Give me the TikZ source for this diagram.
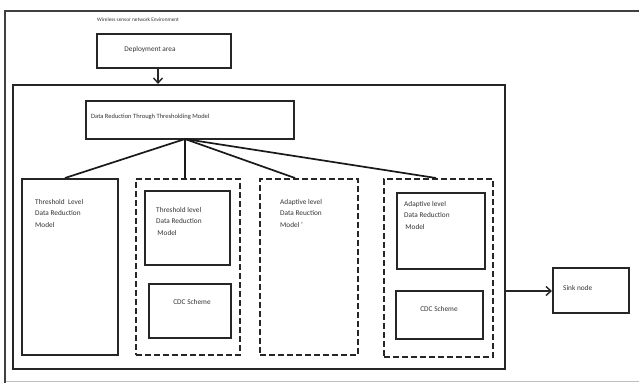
\documentclass[tikz,border=0pt]{standalone}
\usepackage{fontspec}
\setmainfont{Carlito}
\usetikzlibrary{arrows.meta}
\begin{document}
\begin{tikzpicture}[x=1pt,y=-1pt,
  box/.style={draw=black!85,line width=1.5pt,anchor=north west,inner sep=0pt},
  dbox/.style={draw=black!85,line width=1.8pt,dash pattern=on 6pt off 3pt,anchor=north west,inner sep=0pt},
  txt/.style={font=\fontsize{7.3}{11.5}\selectfont,align=left,inner sep=0pt,text=black!80},
  conn/.style={draw=black!90,line width=1.7pt},
  arr/.style={draw=black!85,line width=1.4pt,-{Straight Barb[length=5pt,width=9pt,line width=1.4pt]}}]
\useasboundingbox (0,0) rectangle (639,383);
% outer environment frame
\coordinate (otl) at (5,11);
\coordinate (otr) at (639,11);
\coordinate (obl) at (5,383);
\coordinate (obr) at (639,381);
\draw[black!75,line width=1.8pt] (otr) -- (otl) -- (obl);
\draw[black!25,line width=0.6pt] (6,381) -- (obr);
\node[txt,font=\fontsize{5.3}{6}\selectfont,anchor=west] (title) at (97,20) {Wireless sensor network Environment};
% deployment
\node[box,minimum width=134pt,minimum height=34pt] (dep) at (96,33) {};
\node[txt,anchor=center] (dept) at (150,50) {Deployment area};
% inner region
\node[box,minimum width=492pt,minimum height=284pt] (inner) at (12,84) {};
\coordinate (arrend) at (158,84);
\draw[arr] (158,67) -- (arrend);
% DRT
\node[box,minimum width=208pt,minimum height=38pt] (drt) at (85,100) {};
\node[txt,anchor=west,font=\fontsize{6.5}{8}\selectfont] (drtt) at (91,117) {Data Reduction Through Thresholding Model};
\coordinate (hub) at (185,139);
% box1
\node[box,minimum width=96pt,minimum height=176pt] (b1) at (21,178) {};
\node[txt,anchor=north west] (b1t) at (35,199) {Threshold~ Level\\Data Reduction\\Model};
% dashed box 2
\node[dbox,minimum width=104pt,minimum height=176pt] (d2) at (135,178) {};
\node[box,minimum width=85pt,minimum height=74pt] (b2a) at (144,190) {};
\node[txt,anchor=north west] (b2at) at (156,207) {Threshold level\\Data Reduction\\\,Model};
\node[box,minimum width=82pt,minimum height=54pt] (b2b) at (148,283) {};
\node[txt,anchor=center] (b2bt) at (192,302) {CDC Scheme};
% dashed box 3
\node[dbox,minimum width=98pt,minimum height=176pt] (d3) at (259,178) {};
\node[txt,anchor=north west] (b3t) at (280,199) {Adaptive level\\Data Reuction\\Model~'};
% dashed box 4
\node[dbox,minimum width=109pt,minimum height=178pt] (d4) at (383,178) {};
\node[box,minimum width=88pt,minimum height=76pt] (b4a) at (396,192) {};
\node[txt,anchor=north west] (b4at) at (404,201) {Adaptive level\\Data Reduction\\\,Model};
\node[box,minimum width=87pt,minimum height=48pt] (b4b) at (395,290) {};
\node[txt,anchor=center] (b4bt) at (439,309) {CDC Scheme};
% sink
\node[box,minimum width=76pt,minimum height=45pt] (sink) at (552,267) {};
\node[txt,anchor=west] (sinkt) at (563,288) {Sink node};
% connectors
\draw[conn] (hub) -- (65,178);
\draw[conn] (hub) -- (185,178);
\draw[conn] (hub) -- (295,178);
\draw[conn] (hub) -- (436,178);
\draw[arr] (504,291) -- (552,291);
\end{tikzpicture}
\end{document}
